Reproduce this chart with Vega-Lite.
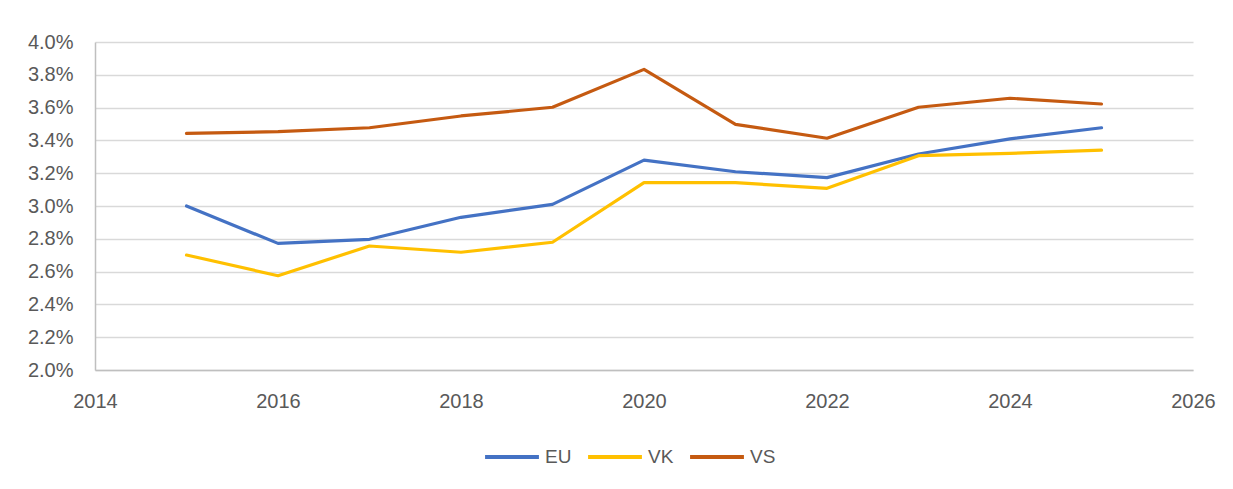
{
  "$schema": "https://vega.github.io/schema/vega-lite/v6.json",
  "width": 1098,
  "height": 328,
  "autosize": {"type": "none"},
  "padding": {"left": 95, "top": 42, "right": 40, "bottom": 119},
  "background": "white",
  "config": {
    "view": {"stroke": null},
    "font": "Liberation Sans"
  },
  "data": {
    "values": [
      {"year": 2015, "series": "EU", "value": 0.03000},
      {"year": 2016, "series": "EU", "value": 0.02772},
      {"year": 2017, "series": "EU", "value": 0.02797},
      {"year": 2018, "series": "EU", "value": 0.02931},
      {"year": 2019, "series": "EU", "value": 0.03010},
      {"year": 2020, "series": "EU", "value": 0.03280},
      {"year": 2021, "series": "EU", "value": 0.03209},
      {"year": 2022, "series": "EU", "value": 0.03173},
      {"year": 2023, "series": "EU", "value": 0.03317},
      {"year": 2024, "series": "EU", "value": 0.03409},
      {"year": 2025, "series": "EU", "value": 0.03477},
      {"year": 2015, "series": "VK", "value": 0.02701},
      {"year": 2016, "series": "VK", "value": 0.02575},
      {"year": 2017, "series": "VK", "value": 0.02756},
      {"year": 2018, "series": "VK", "value": 0.02718},
      {"year": 2019, "series": "VK", "value": 0.02779},
      {"year": 2020, "series": "VK", "value": 0.03142},
      {"year": 2021, "series": "VK", "value": 0.03142},
      {"year": 2022, "series": "VK", "value": 0.03108},
      {"year": 2023, "series": "VK", "value": 0.03307},
      {"year": 2024, "series": "VK", "value": 0.03321},
      {"year": 2025, "series": "VK", "value": 0.03341},
      {"year": 2015, "series": "VS", "value": 0.03443},
      {"year": 2016, "series": "VS", "value": 0.03453},
      {"year": 2017, "series": "VS", "value": 0.03477},
      {"year": 2018, "series": "VS", "value": 0.03549},
      {"year": 2019, "series": "VS", "value": 0.03602},
      {"year": 2020, "series": "VS", "value": 0.03833},
      {"year": 2021, "series": "VS", "value": 0.03498},
      {"year": 2022, "series": "VS", "value": 0.03413},
      {"year": 2023, "series": "VS", "value": 0.03602},
      {"year": 2024, "series": "VS", "value": 0.03657},
      {"year": 2025, "series": "VS", "value": 0.03622}
    ]
  },
  "mark": {"type": "line", "strokeWidth": 3.2, "strokeCap": "round", "strokeJoin": "round"},
  "encoding": {
    "x": {
      "field": "year",
      "type": "quantitative",
      "scale": {"domain": [2014, 2026], "nice": false, "zero": false},
      "axis": {
        "title": null,
        "values": [2014, 2016, 2018, 2020, 2022, 2024, 2026],
        "format": "d",
        "grid": false,
        "ticks": false,
        "domain": true,
        "domainColor": "#bfbfbf",
        "domainWidth": 1.5,
        "labelFont": "Liberation Sans",
        "labelFontSize": 20,
        "labelColor": "#595959",
        "labelPadding": 21,
        "labelFlush": false
      }
    },
    "y": {
      "field": "value",
      "type": "quantitative",
      "scale": {"domain": [0.02, 0.04], "nice": false, "zero": false},
      "axis": {
        "title": null,
        "values": [0.02, 0.022, 0.024, 0.026, 0.028, 0.03, 0.032, 0.034, 0.036, 0.038, 0.04],
        "format": ".1%",
        "grid": true,
        "gridColor": "#d9d9d9",
        "gridWidth": 1.5,
        "ticks": false,
        "domain": true,
        "domainColor": "#bfbfbf",
        "domainWidth": 1.5,
        "labelFont": "Liberation Sans",
        "labelFontSize": 20,
        "labelColor": "#595959",
        "labelPadding": 22,
        "labelFlush": false
      }
    },
    "color": {
      "field": "series",
      "type": "nominal",
      "scale": {"domain": ["EU", "VK", "VS"], "range": ["#4472C4", "#FFC000", "#C55A11"]},
      "legend": {
        "title": null,
        "orient": "none",
        "direction": "horizontal",
        "legendX": 388,
        "legendY": 386,
        "symbolType": "stroke",
        "symbolSize": 2900,
        "symbolStrokeWidth": 4,
        "labelFont": "Liberation Sans",
        "labelFontSize": 19,
        "labelColor": "#595959",
        "labelOffset": 4,
        "columnPadding": 8
      }
    }
  }
}
